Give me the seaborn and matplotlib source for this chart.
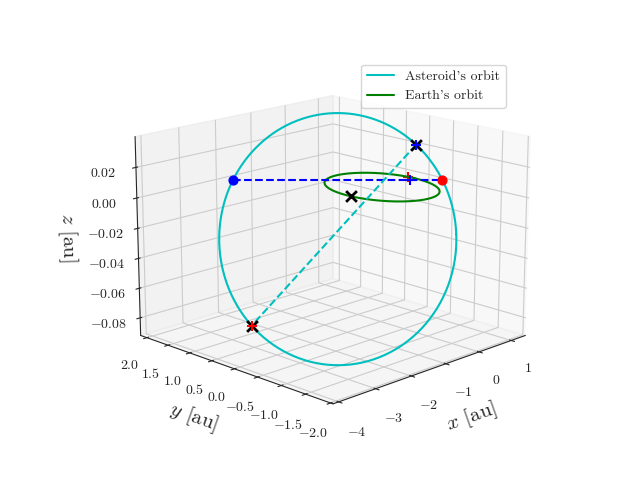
import numpy as np
import matplotlib
matplotlib.use("Agg")
import matplotlib.pyplot as plt
import seaborn as sns

sns.set_style("white")
plt.rcParams.update({"font.family": "serif", "font.serif": ["cmr10"],
                     "mathtext.fontset": "cm", "axes.formatter.use_mathtext": True})

# Asteroid orbit: ellipse with centre offsets (cu, cv), semi-axes a, b along directions u, v
u_dir = [0.8, -0.6]
v_dir = [0.8, 0.6]
a_ast, b_ast = 2.12, 2.0
cu, cv = -0.8, -0.88
z0, z_sin = -0.023, 0.063
node_theta = [47.0, 225.0]        # angles of the two X marks on the orbit
earth_pos = [-0.997, -0.07, 0.0]
target_pos = [0.99, 0.14, 0.0]
target_pos2 = [0.99, 0.08, -0.002]

u = np.array(u_dir); v = np.array(v_dir)
center = cu * u + cv * v
th0 = np.arcsin(-cv / b_ast)

def ast(th):
    th = np.atleast_1d(np.asarray(th, dtype=float))
    p = center[:, None] + np.outer(u, a_ast * np.cos(th)) + np.outer(v, b_ast * np.sin(th))
    z = z0 + z_sin * np.sin(th)
    return p[0], p[1], z

t = np.linspace(0, 2 * np.pi, 400)
ax_, ay_, az_ = ast(t)
ex = np.cos(t); ey = np.sin(t); ez = np.zeros_like(t)
pt = lambda th: [c[0] for c in ast(th)]
perihelion = pt(th0)
aphelion = pt(np.pi - th0)
node_a = pt(np.radians(node_theta[0]))
node_b = pt(np.radians(node_theta[1]))

fig = plt.figure(figsize=(6.4, 4.8), dpi=100)
ax = fig.add_subplot(projection="3d")
ax.set_box_aspect(None, zoom=1.16)
ax.plot(ax_, ay_, az_, color="c", label="Asteroid's orbit")
ax.plot(ex, ey, ez, color="g", label="Earth's orbit")
ax.plot([aphelion[0], perihelion[0]], [aphelion[1], perihelion[1]], [aphelion[2], perihelion[2]], "b--")
ax.plot([node_a[0], node_b[0]], [node_a[1], node_b[1]], [node_a[2], node_b[2]], "c--")
ax.scatter(*perihelion, color="r", s=40, depthshade=False)
ax.scatter(*aphelion, color="b", s=40, depthshade=False)
for p in (node_a, node_b, earth_pos):
    ax.scatter(*p, color="k", marker="x", s=60, linewidths=2, depthshade=False)
ax.scatter(*node_b, color="r", marker="+", s=60, depthshade=False)
ax.scatter(*target_pos, color="r", marker="+", s=60, depthshade=False)
ax.scatter(*node_a, color="b", marker="+", s=60, depthshade=False)
ax.scatter(*target_pos2, color="b", marker="+", s=60, depthshade=False)

ax.set_xlim(-4.15, 1.45)
ax.set_ylim(-2.05, 2.15)
ax.set_zlim(-0.092, 0.04)
ax.set_xlabel("$x$ [au]", fontsize=15)
ax.set_ylabel("$y$ [au]", fontsize=15)
ax.set_zlabel("$z$ [au]", fontsize=15)
ax.set_xticks([-4, -3, -2, -1, 0, 1])
ax.set_yticks([-2, -1.5, -1, -0.5, 0, 0.5, 1, 1.5, 2])
ax.set_zticks([-0.08, -0.06, -0.04, -0.02, 0, 0.02])
ax.view_init(elev=16, azim=-135)
ax.legend(loc="upper right")
fig.savefig("out.png")
